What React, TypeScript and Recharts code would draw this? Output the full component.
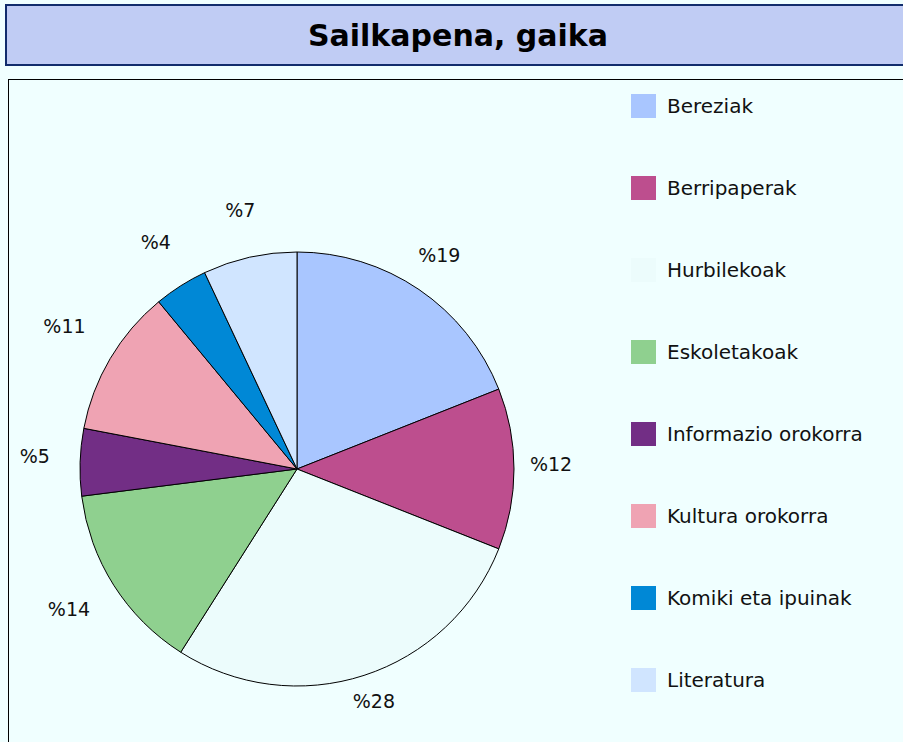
import * as React from "react";
import { Legend, Pie, PieChart, Cell } from "recharts";

// Sailkapena, gaika — share of titles by theme (percent)
const categories = [
  "Bereziak",
  "Berripaperak",
  "Hurbilekoak",
  "Eskoletakoak",
  "Informazio orokorra",
  "Kultura orokorra",
  "Komiki eta ipuinak",
  "Literatura",
];
const shares = [19, 12, 28, 14, 5, 11, 4, 7];
const colors = ["#A9C6FF", "#BD4E8E", "#ECFCFC", "#8FD08F", "#722E85", "#EFA3B3", "#0088D6", "#D0E5FF"];

const data = categories.map((name, i) => ({ name, value: shares[i], color: colors[i] }));

const FONT = "'DejaVu Sans', Verdana, sans-serif";
const RAD = Math.PI / 180;

// Excel-style outside label: the text box sits outside the rim, pushed out by
// its half-extent along the slice direction (labels on the left sit a bit further out).
function PctLabel(props: any) {
  const { cx, cy, midAngle, outerRadius, value } = props;
  const text = `%${value}`;
  const hw = (18 + 12 * (text.length - 1)) / 2;
  const hh = 10;
  const c = Math.cos(-midAngle * RAD);
  const s = Math.sin(-midAngle * RAD);
  const gap = c >= 0 ? 16 : 30;
  const d = outerRadius + gap + hw * Math.abs(c) + hh * Math.abs(s);
  const x = cx + d * c;
  const y = cy + d * s - 5;
  return (
    <text x={x} y={y} textAnchor="middle" dominantBaseline="central" fontSize={19} fontFamily={FONT} fill="#111">
      {text}
    </text>
  );
}

function LegendBox() {
  return (
    <div>
      {data.map((d) => (
        <div key={d.name} style={{ display: "flex", alignItems: "center", height: 82 }}>
          <span style={{ width: 25, height: 24, background: d.color, display: "inline-block" }} />
          <span style={{ marginLeft: 11, fontSize: 20, fontFamily: FONT, color: "#111" }}>{d.name}</span>
        </div>
      ))}
    </div>
  );
}

export default function App() {
  return (
    <div style={{ position: "fixed", left: 0, top: 0, width: 903, height: 742, background: "#F0FFFF", overflow: "hidden" }}>
      <div
        style={{
          position: "absolute",
          left: 5,
          top: 4,
          width: 910,
          height: 58,
          background: "#C0CCF4",
          border: "2px solid #112C6C",
          display: "flex",
          alignItems: "center",
          justifyContent: "center",
          fontFamily: FONT,
          fontWeight: "bold",
          fontSize: 30,
          color: "#000",
        }}
      >
        <span style={{ marginLeft: -8 }}>Sailkapena, gaika</span>
      </div>
      <div
        style={{
          position: "absolute",
          left: 8,
          top: 79,
          width: 920,
          height: 700,
          borderLeft: "1px solid #000",
          borderTop: "1px solid #000",
        }}
      />
      <div style={{ position: "absolute", left: 0, top: 0 }}>
        <PieChart width={903} height={742} margin={{ top: 0, right: 0, bottom: 0, left: 0 }}>
          <Pie
            data={data}
            dataKey="value"
            nameKey="name"
            cx={297}
            cy={469}
            outerRadius={217}
            startAngle={90}
            endAngle={-270}
            stroke="#000"
            strokeWidth={1}
            label={PctLabel}
            labelLine={false}
            isAnimationActive={false}
          >
            {data.map((d, i) => (
              <Cell key={i} fill={d.color} />
            ))}
          </Pie>
          <Legend
            layout="vertical"
            verticalAlign="top"
            align="right"
            content={() => <LegendBox />}
            wrapperStyle={{ left: 631, top: 65, width: 260 }}
          />
        </PieChart>
      </div>
    </div>
  );
}
